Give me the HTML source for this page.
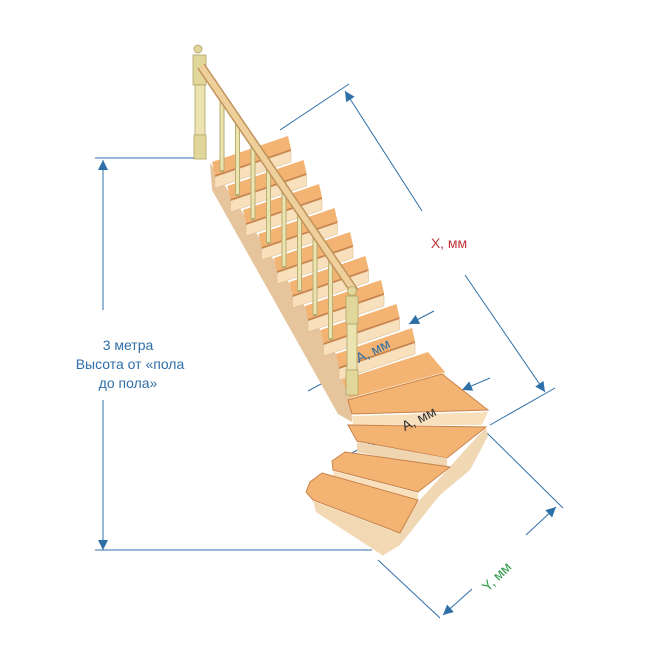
<!DOCTYPE html>
<html><head><meta charset="utf-8"><style>
html,body{margin:0;padding:0;background:#fff}
svg{display:block}
text{font-family:"Liberation Sans",sans-serif}
</style></head><body>
<svg width="660" height="660" viewBox="0 0 660 660" xmlns="http://www.w3.org/2000/svg">
<defs>
<marker id="ar" viewBox="0 0 10 10" refX="10" refY="5" markerWidth="14" markerHeight="10" markerUnits="userSpaceOnUse" orient="auto"><path d="M0,0 L10,5 L0,10 z" fill="#2f6fa8"/></marker>
<g id="st">
<polygon points="288,136 212,162 215,175 291,149" fill="#f3b473"/>
<polygon points="291,149 215,175 215,177 291,151" fill="#c9834a"/>
<polygon points="291,151 215,177 215,188 291,162" fill="#f8e0bc" stroke="#d9b88c" stroke-width="0.5"/>
</g>
</defs>
<g stroke="#2f6fa8" stroke-width="1" fill="none">
<line x1="95" y1="158" x2="200" y2="158"/>
<line x1="95" y1="550" x2="372" y2="550"/>
<line x1="103" y1="310" x2="103" y2="160" marker-end="url(#ar)"/>
<line x1="103" y1="400" x2="103" y2="550" marker-end="url(#ar)"/>
<line x1="280" y1="130" x2="349" y2="84"/>
<line x1="422" y1="211" x2="345" y2="91" marker-end="url(#ar)"/>
<line x1="465" y1="275" x2="545" y2="392" marker-end="url(#ar)"/>
<line x1="490" y1="425" x2="555" y2="388"/>
<line x1="487" y1="433" x2="563" y2="508"/>
<line x1="378" y1="560" x2="440" y2="618"/>
<line x1="472" y1="589" x2="443" y2="615" marker-end="url(#ar)"/>
<line x1="526" y1="535" x2="556" y2="507" marker-end="url(#ar)"/>
<line x1="434" y1="311" x2="409" y2="324" marker-end="url(#ar)"/>
<line x1="308" y1="391" x2="334" y2="377" marker-end="url(#ar)"/>
<line x1="490" y1="378" x2="462" y2="390" marker-end="url(#ar)"/>
<line x1="350" y1="454" x2="380" y2="438" marker-end="url(#ar)"/>
</g>
<polygon points="210,163 212,190 338,414 352,422 350,380 336,354" fill="#e6c49c"/>
<use href="#st"/>
<use href="#st" transform="translate(15.5,24)"/>
<use href="#st" transform="translate(31,48)"/>
<use href="#st" transform="translate(46.5,72)"/>
<use href="#st" transform="translate(62,96)"/>
<use href="#st" transform="translate(77.5,120)"/>
<use href="#st" transform="translate(93,144)"/>
<use href="#st" transform="translate(108.5,168)"/>
<use href="#st" transform="translate(124,192)"/>
<polygon points="342,380 428,352 445,372 350,398" fill="#f3b473"/>
<polygon points="350,398 445,372 445,380 350,406" fill="#f8e0bc"/>
<polygon points="348,400 442,374 488,410 352,414" fill="#f3b473" stroke="#c9834a" stroke-width="1"/>
<polygon points="352,416 488,412 482,425 353,425" fill="#f8e0bc"/>
<polygon points="348,425 486,427 447,458 357,441" fill="#f3b473" stroke="#c9834a" stroke-width="1"/>
<polygon points="357,442 447,458 447,470 357,452" fill="#f0d6b0"/>
<polygon points="486,427 488,436 470,470 440,495 420,520 400,545 382,556 380,545 418,502 447,470" fill="#f0d8b5"/>
<polygon points="345,452 450,467 418,492 333,470 332,461" fill="#f3b473" stroke="#c9834a" stroke-width="1"/>
<polygon points="333,471 418,493 418,505 335,482" fill="#f8e0bc"/>
<polygon points="322,473 418,500 400,533 313,500 306,492 310,482" fill="#f3b473" stroke="#c9834a" stroke-width="1"/>
<polygon points="313,501 400,534 398,545 382,555 316,512" fill="#f3d9b3"/>
<g stroke="#b9ad70" stroke-width="5" stroke-linecap="round">
<line x1="222" y1="96" x2="222" y2="170"/><line x1="237.5" y1="119" x2="237.5" y2="194"/><line x1="253" y1="141" x2="253" y2="218"/><line x1="268.5" y1="164" x2="268.5" y2="242"/><line x1="284" y1="187" x2="284" y2="266"/><line x1="299.5" y1="209" x2="299.5" y2="290"/><line x1="315" y1="232" x2="315" y2="314"/><line x1="330.5" y1="255" x2="330.5" y2="338"/>
</g>
<g stroke="#ebe4b0" stroke-width="3">
<line x1="222" y1="96" x2="222" y2="170"/><line x1="237.5" y1="119" x2="237.5" y2="194"/><line x1="253" y1="141" x2="253" y2="218"/><line x1="268.5" y1="164" x2="268.5" y2="242"/><line x1="284" y1="187" x2="284" y2="266"/><line x1="299.5" y1="209" x2="299.5" y2="290"/><line x1="315" y1="232" x2="315" y2="314"/><line x1="330.5" y1="255" x2="330.5" y2="338"/>
</g>
<rect x="193" y="55" width="13" height="30" fill="#e2d79a" stroke="#b0a468" stroke-width="0.8"/>
<rect x="195" y="85" width="10" height="50" fill="#ebe4b0" stroke="#b0a468" stroke-width="0.8"/>
<rect x="194" y="135" width="12" height="24" fill="#e2d79a" stroke="#b0a468" stroke-width="0.8"/>
<circle cx="198" cy="49" r="4" fill="#e2d79a" stroke="#b0a468" stroke-width="0.8"/>
<line x1="201" y1="66" x2="355" y2="292" stroke="#bf935c" stroke-width="9"/>
<line x1="201" y1="66" x2="355" y2="292" stroke="#efcf9a" stroke-width="6"/>
<rect x="346" y="296" width="12" height="28" fill="#e2d79a" stroke="#b0a468" stroke-width="0.8"/>
<rect x="347" y="324" width="10" height="46" fill="#ebe4b0" stroke="#b0a468" stroke-width="0.8"/>
<rect x="346" y="370" width="12" height="25" fill="#e2d79a" stroke="#b0a468" stroke-width="0.8"/>
<circle cx="352" cy="291" r="4.5" fill="#e2d79a" stroke="#b0a468" stroke-width="0.8"/>
<g font-size="14" fill="#2f6fa8" text-anchor="middle">
<text x="128" y="350">3 метра</text>
<text x="130" y="369">Высота от «пола</text>
<text x="128" y="388">до пола»</text>
</g>
<text x="449" y="248" font-size="14" fill="#c0353a" text-anchor="middle">X, мм</text>
<text x="0" y="0" font-size="14" fill="#2e6da4" text-anchor="middle" transform="translate(375,355) rotate(-27)">A, мм</text>
<text x="0" y="0" font-size="14" fill="#333" text-anchor="middle" transform="translate(421,423) rotate(-27)">A, мм</text>
<text x="0" y="0" font-size="14" fill="#2f9a4a" text-anchor="middle" transform="translate(500,580) rotate(-45)">Y, мм</text>
</svg>
</body></html>
